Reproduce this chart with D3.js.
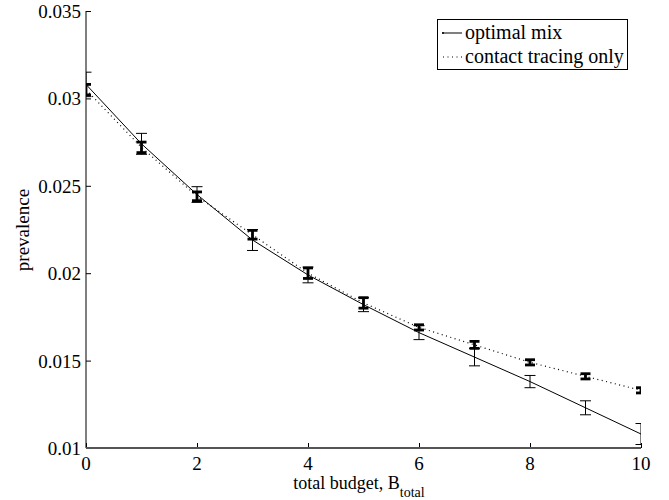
<!DOCTYPE html>
<html>
<head>
<meta charset="utf-8">
<script src="https://cdn.jsdelivr.net/npm/d3@7"></script>
<style>
  body { margin: 0; background: #fff; }
  text { font-family: "Liberation Serif", "DejaVu Serif", serif; }
</style>
</head>
<body>
<svg id="chart" width="669" height="500"></svg>
<script>
// budget values on the x axis
var budget = [0, 1, 2, 3, 4, 5, 6, 7, 8, 9, 10];

// optimal mix: mean prevalence and error half-width
var optimalMean = [0.0308, 0.0274, 0.0245, 0.0219, 0.0199, 0.0182, 0.0166, 0.0152, 0.0138, 0.0123, 0.0108];
var optimalErr  = [0.0007, 0.0006, 0.00045, 0.0006, 0.00045, 0.0004, 0.0004, 0.0005, 0.00035, 0.0004, 0.0006];

// contact tracing only
var contactMean = [0.0305, 0.0272, 0.0244, 0.0222, 0.0200, 0.0183, 0.0169, 0.0159, 0.0149, 0.0141, 0.0133];
var contactErr  = [0.0003, 0.0003, 0.00025, 0.00025, 0.0003, 0.0003, 0.00015, 0.0002, 0.00015, 0.00015, 0.00015];

var xTicks = [0, 2, 4, 6, 8, 10];
var yTicks = [0.01, 0.015, 0.02, 0.025, 0.03, 0.035];

var FONT = "'Liberation Serif', 'DejaVu Serif', serif";

var svg = d3.select("#chart");

var L = 86, R = 641, T = 11, B = 448;

var x = d3.scaleLinear().domain([0, 10]).range([L, R]);
var y = d3.scaleLinear().domain([0.01, 0.035]).range([B, T]);

svg.append("defs").append("clipPath").attr("id", "plotclip")
  .append("rect").attr("x", L).attr("y", T).attr("width", R - L).attr("height", B - T);

// axes, ticks pointing inward like matlab
var xAxis = d3.axisTop(x).tickValues(xTicks).tickSize(5).tickFormat("");
var yAxis = d3.axisRight(y).tickValues(yTicks).tickSize(5).tickFormat("");

var gx = svg.append("g").attr("transform", "translate(0," + B + ")").call(xAxis);
gx.select(".domain").remove();
gx.selectAll("line").attr("stroke", "#000");

var gy = svg.append("g").attr("transform", "translate(" + L + ",0)").call(yAxis);
gy.select(".domain").remove();
gy.selectAll("line").attr("stroke", "#000");

svg.append("line").attr("x1", L).attr("x2", L).attr("y1", T).attr("y2", B)
  .attr("stroke", "#000").attr("stroke-width", 1);
svg.append("line").attr("x1", L).attr("x2", R).attr("y1", B).attr("y2", B)
  .attr("stroke", "#555").attr("stroke-width", 2);

// tick labels
svg.append("g").selectAll("text").data(xTicks).enter().append("text")
  .attr("x", function(d) { return x(d); })
  .attr("y", B + 22)
  .attr("text-anchor", "middle")
  .attr("font-family", FONT)
  .attr("font-size", 19)
  .text(function(d) { return d; });

svg.append("g").selectAll("text").data(yTicks).enter().append("text")
  .attr("x", L - 5)
  .attr("y", function(d) { return y(d) + 7; })
  .attr("text-anchor", "end")
  .attr("font-family", FONT)
  .attr("font-size", 19)
  .text(function(d) { return +d.toFixed(3); });

// axis titles
var xt = svg.append("text").attr("x", 359).attr("y", 489)
  .attr("text-anchor", "middle").attr("font-family", FONT).attr("font-size", 18);
xt.append("tspan").text("total budget, B");
xt.append("tspan").attr("dy", 8).attr("font-size", 14).text("total");

svg.append("text")
  .attr("transform", "translate(29,230) rotate(-90)")
  .attr("text-anchor", "middle").attr("font-family", FONT).attr("font-size", 19)
  .text("prevalence");

// series
var plot = svg.append("g").attr("clip-path", "url(#plotclip)");

var line = d3.line()
  .x(function(d) { return x(d[0]); })
  .y(function(d) { return y(d[1]); });

var contactPts = budget.map(function(b, i) { return [b, contactMean[i]]; });
var optimalPts = budget.map(function(b, i) { return [b, optimalMean[i]]; });

plot.append("path").attr("d", line(contactPts))
  .attr("fill", "none").attr("stroke", "#000").attr("stroke-width", 1.2)
  .attr("stroke-dasharray", "1,3.5");

plot.append("path").attr("d", line(optimalPts))
  .attr("fill", "none").attr("stroke", "#000").attr("stroke-width", 1);

function errorBars(mean, err, width, cap) {
  budget.forEach(function(b, i) {
    var cx = x(b), y1 = y(mean[i] + err[i]), y2 = y(mean[i] - err[i]);
    plot.append("line").attr("x1", cx).attr("x2", cx).attr("y1", y1).attr("y2", y2)
      .attr("stroke", "#000").attr("stroke-width", width);
    [y1, y2].forEach(function(yy) {
      plot.append("line").attr("x1", cx - cap).attr("x2", cx + cap).attr("y1", yy).attr("y2", yy)
        .attr("stroke", "#000").attr("stroke-width", width);
    });
  });
}

errorBars(optimalMean, optimalErr, 1, 5.5);
errorBars(contactMean, contactErr, 2.8, 5);

// legend
var lg = svg.append("g");
lg.append("rect").attr("x", 437.5).attr("y", 19.5).attr("width", 190).attr("height", 50)
  .attr("fill", "#fff").attr("stroke", "#000").attr("stroke-width", 1);
lg.append("line").attr("x1", 442).attr("x2", 462).attr("y1", 33).attr("y2", 33)
  .attr("stroke", "#000").attr("stroke-width", 1);
lg.append("circle").attr("cx", 443).attr("cy", 33).attr("r", 1).attr("fill", "#000");
lg.append("line").attr("x1", 443).attr("x2", 462).attr("y1", 57).attr("y2", 57)
  .attr("stroke", "#000").attr("stroke-width", 1.2).attr("stroke-dasharray", "1,3.5");
lg.append("text").attr("x", 465).attr("y", 39).attr("font-family", FONT).attr("font-size", 20).text("optimal mix");
lg.append("text").attr("x", 465).attr("y", 63).attr("font-family", FONT).attr("font-size", 20).text("contact tracing only");
</script>
</body>
</html>
